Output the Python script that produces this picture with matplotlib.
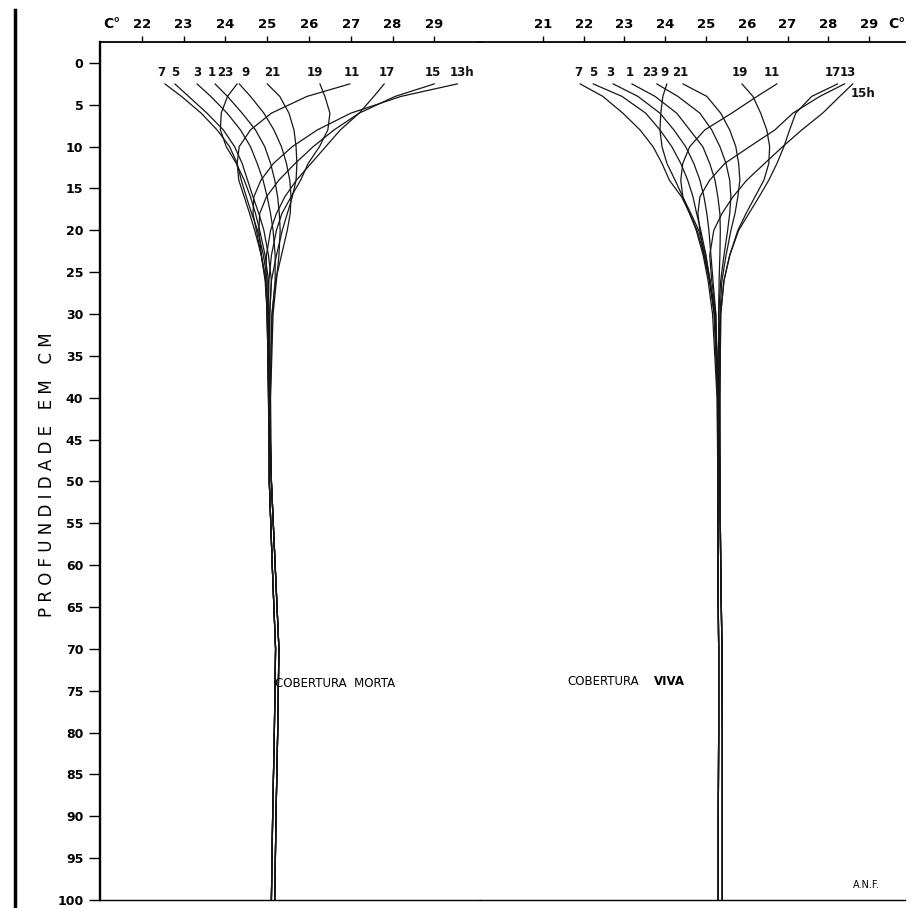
import matplotlib.pyplot as plt
from matplotlib.lines import Line2D

# Soil temperature profiles (deg C) by hour of day, two ground covers.
DEPTH = [2.5, 4, 6, 8, 10, 12, 14, 16, 18, 20, 23, 26, 30, 40, 50, 60, 70, 80, 90, 100]
HOURS = [7, 5, 3, 1, 23, 9, 21, 19, 11, 17, 15, 13]

MORTA_T = [
    [22.55, 22.95, 23.42, 23.80, 24.10, 24.28, 24.38, 24.50, 24.63, 24.77, 24.91, 25.00, 25.00, 25.03, 25.05, 25.12, 25.20, 25.17, 25.13, 25.10],
    [22.79, 23.12, 23.56, 23.95, 24.22, 24.40, 24.53, 24.66, 24.80, 24.92, 25.03, 25.10, 25.06, 25.05, 25.10, 25.19, 25.28, 25.25, 25.21, 25.18],
    [23.32, 23.65, 24.04, 24.36, 24.60, 24.76, 24.90, 25.00, 25.08, 25.14, 25.19, 25.19, 25.12, 25.07, 25.05, 25.12, 25.20, 25.17, 25.13, 25.10],
    [23.75, 24.05, 24.40, 24.72, 24.94, 25.08, 25.18, 25.25, 25.29, 25.31, 25.28, 25.22, 25.14, 25.08, 25.10, 25.19, 25.28, 25.25, 25.21, 25.18],
    [24.33, 24.60, 24.92, 25.16, 25.34, 25.46, 25.54, 25.57, 25.55, 25.48, 25.34, 25.20, 25.11, 25.07, 25.05, 25.12, 25.20, 25.17, 25.13, 25.10],
    [24.28, 24.05, 23.90, 23.88, 24.02, 24.26, 24.45, 24.60, 24.72, 24.82, 24.95, 25.03, 25.02, 25.04, 25.10, 25.19, 25.28, 25.25, 25.21, 25.18],
    [25.00, 25.30, 25.52, 25.64, 25.69, 25.71, 25.69, 25.60, 25.48, 25.36, 25.22, 25.10, 25.06, 25.06, 25.05, 25.12, 25.20, 25.17, 25.13, 25.10],
    [26.26, 26.38, 26.50, 26.45, 26.25, 25.98, 25.80, 25.57, 25.35, 25.22, 25.10, 25.04, 25.03, 25.05, 25.10, 25.19, 25.28, 25.25, 25.21, 25.18],
    [26.98, 25.95, 25.10, 24.60, 24.33, 24.28, 24.32, 24.45, 24.58, 24.70, 24.86, 24.97, 25.00, 25.03, 25.05, 25.12, 25.20, 25.17, 25.13, 25.10],
    [27.80, 27.55, 27.20, 26.75, 26.40, 26.05, 25.70, 25.42, 25.22, 25.08, 24.98, 24.97, 25.00, 25.04, 25.10, 25.19, 25.28, 25.25, 25.21, 25.18],
    [29.00, 28.06, 27.20, 26.60, 26.10, 25.67, 25.28, 24.98, 24.82, 24.80, 24.86, 24.95, 25.00, 25.04, 25.05, 25.12, 25.20, 25.17, 25.13, 25.10],
    [29.55, 28.20, 27.00, 26.20, 25.60, 25.15, 24.85, 24.68, 24.66, 24.74, 24.86, 24.96, 25.00, 25.03, 25.10, 25.19, 25.28, 25.25, 25.21, 25.18],
]

VIVA_T = [
    [21.91, 22.47, 22.96, 23.38, 23.70, 23.92, 24.10, 24.40, 24.60, 24.78, 24.96, 25.10, 25.20, 25.28, 25.29, 25.29, 25.31, 25.31, 25.30, 25.30],
    [22.23, 22.94, 23.52, 23.87, 24.16, 24.38, 24.55, 24.68, 24.77, 24.87, 25.00, 25.09, 25.22, 25.32, 25.34, 25.36, 25.39, 25.40, 25.40, 25.40],
    [22.72, 23.33, 23.87, 24.21, 24.50, 24.70, 24.85, 24.95, 25.02, 25.07, 25.12, 25.17, 25.24, 25.29, 25.29, 25.29, 25.31, 25.31, 25.30, 25.30],
    [23.18, 23.75, 24.28, 24.60, 24.92, 25.09, 25.22, 25.29, 25.34, 25.35, 25.34, 25.32, 25.31, 25.33, 25.34, 25.36, 25.39, 25.40, 25.40, 25.40],
    [23.79, 24.31, 24.85, 25.14, 25.34, 25.49, 25.58, 25.61, 25.58, 25.53, 25.44, 25.36, 25.31, 25.30, 25.29, 25.29, 25.31, 25.31, 25.30, 25.30],
    [24.04, 23.94, 23.89, 23.87, 23.92, 24.04, 24.24, 24.43, 24.63, 24.82, 24.99, 25.10, 25.22, 25.31, 25.34, 25.36, 25.39, 25.40, 25.40, 25.40],
    [24.43, 25.02, 25.36, 25.58, 25.73, 25.80, 25.83, 25.78, 25.71, 25.61, 25.49, 25.39, 25.34, 25.31, 25.29, 25.29, 25.31, 25.31, 25.30, 25.30],
    [25.88, 26.15, 26.34, 26.49, 26.56, 26.54, 26.42, 26.20, 25.98, 25.78, 25.58, 25.44, 25.36, 25.34, 25.34, 25.36, 25.39, 25.40, 25.40, 25.40],
    [26.74, 26.25, 25.63, 24.97, 24.60, 24.43, 24.38, 24.43, 24.60, 24.76, 24.93, 25.05, 25.16, 25.27, 25.29, 25.29, 25.31, 25.31, 25.30, 25.30],
    [28.23, 27.59, 27.20, 27.05, 26.91, 26.74, 26.54, 26.30, 26.05, 25.80, 25.58, 25.44, 25.36, 25.34, 25.34, 25.36, 25.39, 25.40, 25.40, 25.40],
    [28.60, 28.28, 27.86, 27.35, 26.88, 26.44, 26.00, 25.66, 25.39, 25.19, 25.09, 25.14, 25.24, 25.29, 25.29, 25.29, 25.31, 25.31, 25.30, 25.30],
    [28.40, 27.79, 27.13, 26.69, 26.07, 25.46, 25.09, 24.85, 24.80, 24.85, 24.95, 25.08, 25.20, 25.30, 25.34, 25.36, 25.39, 25.40, 25.40, 25.40],
]

LABELS_MORTA = ["7", "5", "3", "1", "23", "9", "21", "19", "11", "17", "15", "13h"]
LABELS_VIVA = ["7", "5", "3", "1", "23", "9", "21", "19", "11", "17", "15h", "13"]

# label offsets (deg, cm) from each curve's top point
NUDGE_MORTA = [(-0.08, 0), (0, 0), (0, 0), (-0.07, 0), (-0.34, 0), (0.19, 0),
               (0.11, 0), (-0.12, 0), (0.05, 0), (0.07, 0), (-0.03, 0), (0.11, 0)]
NUDGE_VIVA = [(-0.05, 0), (0, 0), (-0.08, 0), (-0.05, 0), (-0.17, 0), (-0.05, 0),
              (-0.07, 0), (-0.05, 0), (-0.13, 0), (-0.12, 0), (0.24, 2.5), (0.08, 0)]

W, H = 909, 908
fig = plt.figure(figsize=(W / 100, H / 100), dpi=100)
fig.patch.set_facecolor("white")

bottom = (H - 900) / H
height = (900 - 42) / H
axL = fig.add_axes([100 / W, bottom, 380 / W, height])
axR = fig.add_axes([480 / W, bottom, 425 / W, height])

axL.set_xlim(21.0, 30.09)
axR.set_xlim(19.456, 29.88)
for ax in (axL, axR):
    ax.set_ylim(100, -2.5)
    ax.set_facecolor("none")
    ax.xaxis.tick_top()
    ax.tick_params(axis="x", direction="out", length=4, width=1.0, pad=4,
                   labelsize=9.5)
    ax.spines["right"].set_visible(False)
    ax.spines["top"].set_linewidth(1.3)
    ax.spines["bottom"].set_linewidth(1.0)

axL.spines["left"].set_linewidth(1.7)
axR.spines["left"].set_visible(False)

axL.set_xticks(range(22, 30))
axR.set_xticks(range(21, 30))
axL.set_yticks(range(0, 101, 5))
axR.set_yticks([])
axL.tick_params(axis="y", direction="out", length=8, width=1.0, pad=4,
                labelsize=9)
for ax in (axL, axR):
    for lab in ax.get_xticklabels() + ax.get_yticklabels():
        lab.set_fontweight("bold")


def draw_panel(ax, table, labels, nudges):
    for row, lab, (dx, dy) in zip(table, labels, nudges):
        ax.plot(row, DEPTH, color="#161616", lw=0.9, solid_capstyle="round")
        ax.text(row[0] + dx, 1.1 + dy, lab, ha="center", va="center",
                fontsize=8.5, fontweight="bold", color="#111111")


draw_panel(axL, MORTA_T, LABELS_MORTA, NUDGE_MORTA)
draw_panel(axR, VIVA_T, LABELS_VIVA, NUDGE_VIVA)

axL.text(25.19, 74.1, "COBERTURA  MORTA", fontsize=8.5, ha="left", va="center")
axR.text(21.59, 73.9, "COBERTURA", fontsize=8.5, ha="left", va="center")
axR.text(23.72, 73.9, "VIVA", fontsize=8.5, fontweight="bold", ha="left",
         va="center")
axR.text(28.94, 98.2, "A.N.F.", fontsize=7, ha="center", va="center")

fig.text(112 / W, 1 - 24 / H, "C°", fontsize=10, fontweight="bold",
         ha="center", va="center")
fig.text(897 / W, 1 - 24 / H, "C°", fontsize=10, fontweight="bold",
         ha="center", va="center")
fig.text(47 / W, 1 - 475 / H, "P R O F U N D I D A D E   E M   C M",
         rotation=90, fontsize=12, ha="center", va="center")

# page edge of the scanned sheet
fig.add_artist(Line2D([15 / W, 15 / W], [0, 1 - 10 / H], color="black",
                      lw=2.5, transform=fig.transFigure))

fig.savefig("out.png", dpi=100, facecolor="white")
